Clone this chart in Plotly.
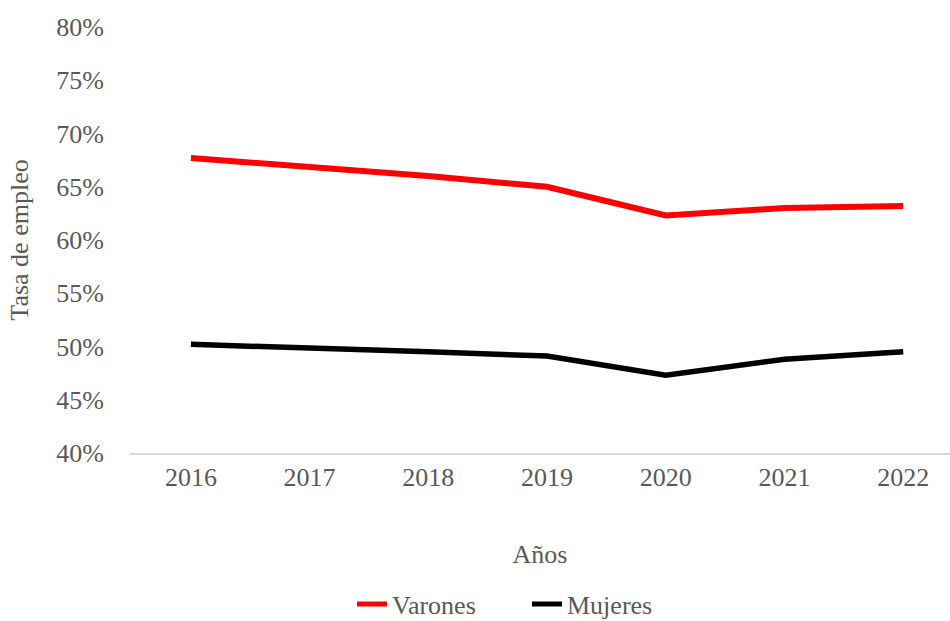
import plotly.graph_objects as go

years = ["2016", "2017", "2018", "2019", "2020", "2021", "2022"]
varones = [67.7, 66.9, 66.0, 65.0, 62.3, 63.0, 63.2]
mujeres = [50.2, 49.9, 49.5, 49.1, 47.3, 48.8, 49.5]
y_ticks = [40, 45, 50, 55, 60, 65, 70, 75, 80]
y_ticklabels = [f"{v}%" for v in y_ticks]

FONT = "Liberation Serif"
GRAY = "#595959"

fig = go.Figure()
fig.add_trace(go.Scatter(x=years, y=varones, mode="lines", name="Varones",
                         line=dict(color="#ff0000", width=6)))
fig.add_trace(go.Scatter(x=years, y=mujeres, mode="lines", name="Mujeres",
                         line=dict(color="#000000", width=5.5)))

fig.update_layout(
    width=950, height=621,
    margin=dict(l=130, r=0, t=27, b=168),
    paper_bgcolor="white", plot_bgcolor="white",
    font=dict(family=FONT, size=26, color=GRAY),
    showlegend=True,
    legend=dict(orientation="h", xref="container", yref="container",
                x=(352 / 950), xanchor="left", y=(17 / 621), yanchor="middle",
                font=dict(family=FONT, size=26, color=GRAY),
                entrywidth=130, entrywidthmode="pixels",
                itemsizing="constant", tracegroupgap=0),
    xaxis=dict(type="category", range=[-0.513, 6.394],
               showline=True, linecolor="#d9d9d9", linewidth=1.5,
               showgrid=False, ticks="", zeroline=False,
               tickfont=dict(family=FONT, size=26, color=GRAY),
               title=dict(text="Años", standoff=54,
                          font=dict(family=FONT, size=26, color=GRAY))),
    yaxis=dict(range=[40, 80], tickvals=y_ticks, ticktext=y_ticklabels,
               showline=False, showgrid=False, zeroline=False, ticks="",
               ticklabelstandoff=25,
               tickfont=dict(family=FONT, size=26, color=GRAY),
               title=dict(text="Tasa de empleo", standoff=20,
                          font=dict(family=FONT, size=26, color=GRAY))),
)

fig.write_html("out.html")
